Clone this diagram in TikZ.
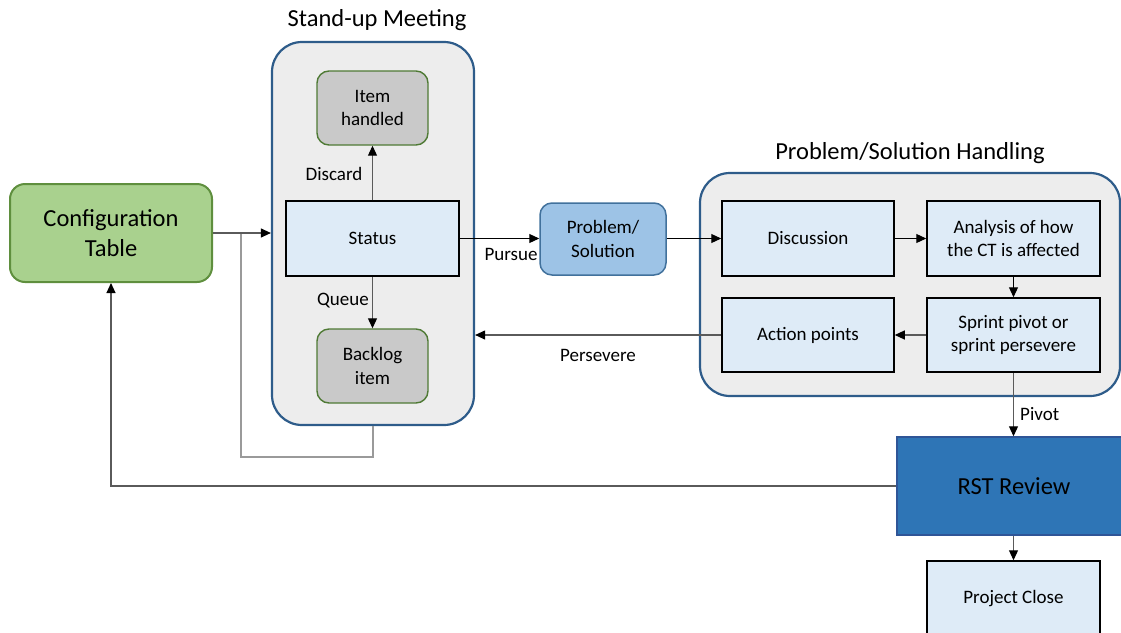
\documentclass[tikz,border=0pt]{standalone}
\usepackage{fontspec}
\setmainfont{Carlito}
\usetikzlibrary{arrows.meta,positioning}
\definecolor{cfgfill}{HTML}{A9D18E}
\definecolor{cfgdraw}{HTML}{5F8F3E}
\definecolor{grpfill}{HTML}{EDEDED}
\definecolor{grpdraw}{HTML}{2E5C8A}
\definecolor{stepfill}{HTML}{DEEBF7}
\definecolor{greyfill}{HTML}{C9C9C9}
\definecolor{greydraw}{HTML}{4F7A35}
\definecolor{probfill}{HTML}{9DC3E6}
\definecolor{probdraw}{HTML}{41719C}
\definecolor{rstfill}{HTML}{2E75B6}
\definecolor{rstdraw}{HTML}{2F5597}
\definecolor{wire}{HTML}{5A5A5A}
\definecolor{loopwire}{HTML}{9A9A9A}
\tikzset{
  base/.style={font=\fontsize{19}{23.5}\selectfont, align=center, inner sep=0pt},
  group/.style={base, rounded corners=30pt, draw=grpdraw, fill=grpfill, line width=2.2pt},
  stepbox/.style={base, draw=black, fill=stepfill, line width=1.5pt},
  greybox/.style={base, rounded corners=12pt, draw=greydraw, fill=greyfill, line width=1.4pt},
  title/.style={font=\fontsize{24.5}{29}\selectfont, inner sep=0pt},
  lbl/.style={font=\fontsize{19}{23}\selectfont, inner sep=0pt},
  link/.style={line width=1.1pt, draw=wire, -{Triangle[length=10pt,width=9pt,color=black]}},
  blink/.style={link, draw=black},
}
\begin{document}
\begin{tikzpicture}[x=1pt, y=-1pt]
\useasboundingbox (0,0) rectangle (1121,632);
\clip (0,0) rectangle (1121,632);

% configuration table
\node[base, rounded corners=15pt, draw=cfgdraw, fill=cfgfill, line width=2pt,
      minimum width=202pt, minimum height=98pt, font=\fontsize{24.5}{30}\selectfont]
  (cfg) at (111,233) {Configuration\\Table};

% stand-up meeting group
\node[group, minimum width=202pt, minimum height=383pt] (sm) at (373,233.5) {};
\node[title] (smtitle) at (377,20) {Stand-up Meeting};
\node[greybox, minimum width=111pt, minimum height=74pt] (itemh) at (372.5,108) {Item\\handled};
\node[stepbox, minimum width=173pt, minimum height=75pt] (status) at (372.5,238.5) {Status};
\node[greybox, minimum width=111pt, minimum height=74pt] (backlog) at (372.5,366) {Backlog\\item};

% problem / solution
\node[base, rounded corners=12pt, draw=probdraw, fill=probfill, line width=1.5pt,
      minimum width=126pt, minimum height=72pt] (prob) at (603,239) {Problem/\\Solution};

% problem/solution handling group
\node[group, minimum width=420pt, minimum height=223pt] (psh) at (910,284.5) {};
\node[title] (pshtitle) at (910,153) {Problem/Solution Handling};
\node[stepbox, minimum width=172pt, minimum height=75pt] (disc) at (808,238.5) {Discussion};
\node[stepbox, minimum width=173pt, minimum height=75pt] (anal) at (1013.5,238.5) {Analysis of how\\the CT is affected};
\node[stepbox, minimum width=172pt, minimum height=74pt] (act) at (808,335) {Action points};
\node[stepbox, minimum width=173pt, minimum height=74pt] (spr) at (1013.5,335) {Sprint pivot or\\sprint persevere};

% review and close
\node[base, draw=rstdraw, fill=rstfill, line width=1.5pt, minimum width=234pt, minimum height=98pt,
      font=\fontsize{24.5}{30}\selectfont] (rst) at (1014,486) {RST Review};
\node[stepbox, minimum width=173pt, minimum height=75pt] (close) at (1013.5,598.5) {Project Close};

% connectors
\coordinate (loopc) at (241,457);
\draw[line width=1.4pt, draw=loopwire] (sm.south) -- (sm.south |- loopc) -- (loopc) -- (loopc |- cfg.east);
\draw[link] (cfg.east) -- (cfg.east -| sm.west);

\draw[link] (status.north) -- (itemh.south);
\node[lbl] (discard) at (334,174) {Discard};
\draw[link] (status.south) -- (backlog.north);
\node[lbl] (queue) at (343,301) {Queue};

\draw[blink] (status.east) -- (status.east -| prob.west);
\node[lbl] (pursue) at (511,254) {Pursue};
\draw[blink] (prob.east |- disc.west) -- (disc.west);
\draw[blink] (disc.east) -- (anal.west);
\draw[blink] (anal.south) -- (spr.north);
\draw[link] (spr.west) -- (act.east);
\draw[link] (act.west) -- (act.west -| sm.east);
\node[lbl] (persevere) at (598,355) {Persevere};

\draw[link] (spr.south) -- (spr.south |- rst.north);
\node[lbl, anchor=west] (pivot) at (1020,414) {Pivot};
\draw[link] (rst.west) -| (cfg.south);
\draw[link] (close.north |- rst.south) -- (close.north);
\end{tikzpicture}
\end{document}
